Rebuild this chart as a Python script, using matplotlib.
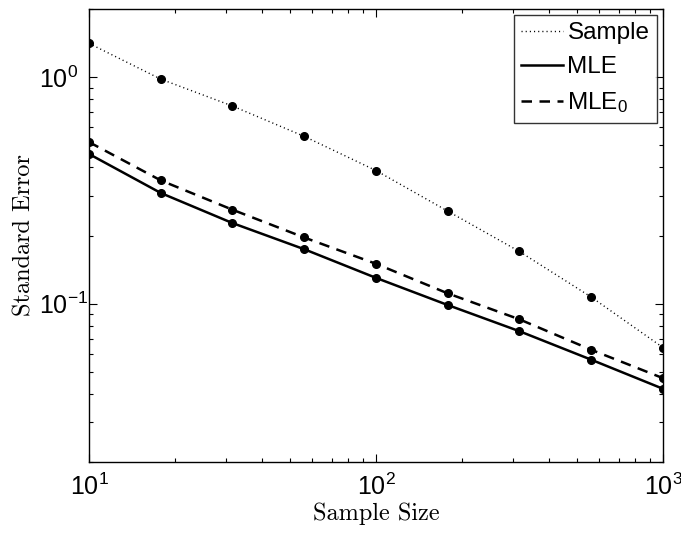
#!/usr/bin/env python3
"""
Standard error vs sample size (log-log) for the sample estimator, MLE and MLE_0.
"""

import matplotlib
matplotlib.use("Agg")
import matplotlib.pyplot as plt
from matplotlib.ticker import LogLocator, NullFormatter

plt.rcParams["font.family"] = ["Liberation Sans", "DejaVu Sans"]
plt.rcParams["mathtext.fontset"] = "custom"
plt.rcParams["mathtext.rm"] = "Liberation Sans"
plt.rcParams["mathtext.it"] = "Liberation Sans:italic"
plt.rcParams["mathtext.bf"] = "Liberation Sans:bold"
plt.rcParams["axes.unicode_minus"] = True

# data
sample_sizes = [10, 17.8, 31.6, 56.2, 100, 178, 316, 562, 1000]
se_sample = [1.41, 0.98, 0.746, 0.548, 0.387, 0.256, 0.170, 0.107, 0.064]
se_mle = [0.458, 0.308, 0.227, 0.174, 0.130, 0.0986, 0.0756, 0.0566, 0.0421]
se_mle0 = [0.517, 0.350, 0.260, 0.196, 0.150, 0.111, 0.0853, 0.0626, 0.0469]


def main():
    fig = plt.figure(figsize=(6.81, 5.35), dpi=100)
    ax = fig.add_axes([0.1307, 0.1364, 0.8429, 0.8468])

    ax.plot(sample_sizes, se_sample, linestyle=(0, (0.8, 2.2)), color="k", linewidth=1.0,
            label="Sample")
    ax.plot(sample_sizes, se_mle, linestyle="-", color="k", linewidth=1.8,
            label="MLE")
    ax.plot(sample_sizes, se_mle0, linestyle=(0, (4.2, 3.0)), color="k", linewidth=1.8,
            label=r"MLE$_0$")
    # markers drawn separately so the legend shows lines only
    for ys in (se_sample, se_mle, se_mle0):
        ax.plot(sample_sizes, ys, linestyle="none", marker="o", color="k",
                markersize=5.5)

    ax.set_xscale("log")
    ax.set_yscale("log")
    ax.set_xlim(10, 1000)
    ax.set_ylim(0.02, 2)

    ax.xaxis.set_major_locator(LogLocator(base=10, numticks=10))
    ax.xaxis.set_minor_locator(LogLocator(base=10, subs=range(2, 10), numticks=20))
    ax.yaxis.set_major_locator(LogLocator(base=10, numticks=10))
    ax.yaxis.set_minor_locator(LogLocator(base=10, subs=range(2, 10), numticks=20))
    ax.xaxis.set_minor_formatter(NullFormatter())
    ax.yaxis.set_minor_formatter(NullFormatter())

    ax.tick_params(which="both", direction="in", top=True, right=True,
                   labelsize=18, width=0.8)
    ax.tick_params(which="major", length=6)
    ax.tick_params(axis="x", which="major", pad=8)
    # MATLAB-style: the "10" stays put and the exponent runs to the right
    ax.tick_params(axis="y", which="major", pad=36)
    ax.tick_params(which="minor", length=3)
    for lbl in ax.get_yticklabels():
        lbl.set_horizontalalignment("left")
    for sp in ax.spines.values():
        sp.set_linewidth(1.0)

    ax.set_xlabel("Sample Size", fontname="cmr10", fontsize=17.5, labelpad=2)
    ax.set_ylabel("Standard Error", fontname="cmr10", fontsize=17.5, labelpad=2.5)

    leg = ax.legend(loc="upper right", bbox_to_anchor=(0.989, 0.987),
                    borderaxespad=0, fontsize=17.5, frameon=True, fancybox=False,
                    handlelength=1.7, handletextpad=0.2, labelspacing=0.5,
                    borderpad=0.3)
    leg.get_frame().set_edgecolor("k")
    leg.get_frame().set_linewidth(1.0)

    fig.savefig("out.png", dpi=100)


if __name__ == "__main__":
    main()
